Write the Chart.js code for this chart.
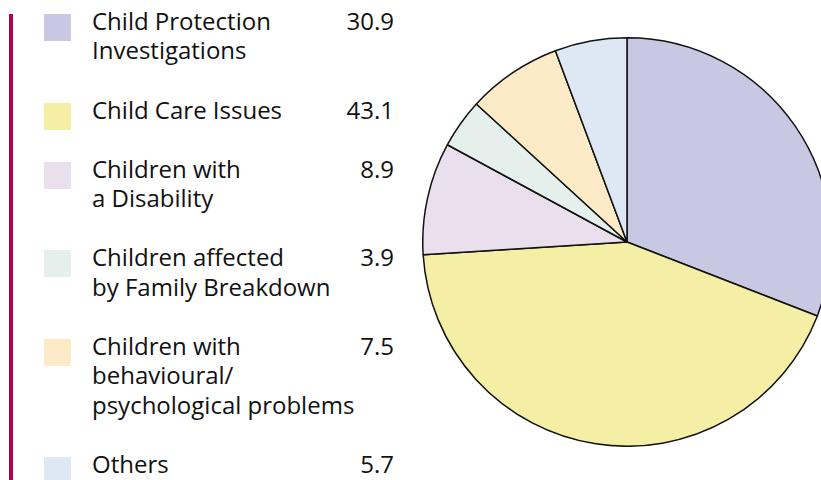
<!DOCTYPE html>
<html>
<head>
<meta charset="utf-8">
<script src="https://cdn.jsdelivr.net/npm/chart.js@4"></script>
<style>
  html, body { margin: 0; padding: 0; background: #fff; }
  body { width: 821px; height: 480px; overflow: hidden; position: relative; font-family: "Open Sans", sans-serif; }
  #bar { position: absolute; left: 9px; top: 14px; width: 4px; height: 466px; background: #b0005a; }
  #legend { position: absolute; left: 44px; top: 14px; width: 350px; }
  .item { position: relative; margin-bottom: 30px; }
  .box { position: absolute; left: 0; top: 0; width: 27px; height: 27px; }
  .txt { position: absolute; left: 48px; top: -8px; font-size: 24px; line-height: 29.3px; color: #111; white-space: nowrap; }
  .val { position: absolute; right: 0; top: -8px; font-size: 24px; line-height: 29.3px; color: #111; }
  #wrap { position: absolute; left: 422px; top: 37px; width: 410px; height: 410px; }
</style>
</head>
<body>
<div id="bar"></div>
<div id="legend"></div>
<div id="wrap"><canvas id="pie"></canvas></div>
<script>
  // categorias (linhas do rótulo) e valores
  let labels = [
    ["Child Protection", "Investigations"],
    ["Child Care Issues"],
    ["Children with", "a Disability"],
    ["Children affected", "by Family Breakdown"],
    ["Children with", "behavioural/", "psychological problems"],
    ["Others"]
  ];
  let values = [30.9, 43.1, 8.9, 3.9, 7.5, 5.7];
  let colors = ["#c8c8e3", "#f5efa5", "#eadfec", "#e5f0ec", "#fdebc8", "#dee8f4"];

  // legenda à esquerda
  let legend = document.getElementById("legend");
  labels.forEach(function (lines, i) {
    let item = document.createElement("div");
    item.className = "item";
    item.style.height = (lines.length * 29.3) + "px";
    item.innerHTML =
      '<div class="box" style="background:' + colors[i] + '"></div>' +
      '<div class="txt">' + lines.join("<br>") + '</div>' +
      '<div class="val">' + values[i].toFixed(1) + '</div>';
    legend.appendChild(item);
  });

  let ctx = document.getElementById("pie").getContext("2d");
  let myPieChart = new Chart(ctx, {
    type: "pie",
    data: {
      labels: labels.map(function (l) { return l.join(" "); }),
      datasets: [{
        data: values,
        backgroundColor: colors,
        borderColor: "#111",
        borderWidth: 1.5,
        hoverOffset: 0
      }]
    },
    options: {
      responsive: true,
      maintainAspectRatio: false,
      animation: false,
      layout: { padding: 0 },
      plugins: { legend: { display: false }, tooltip: { enabled: false } }
    }
  });
</script>
</body>
</html>
